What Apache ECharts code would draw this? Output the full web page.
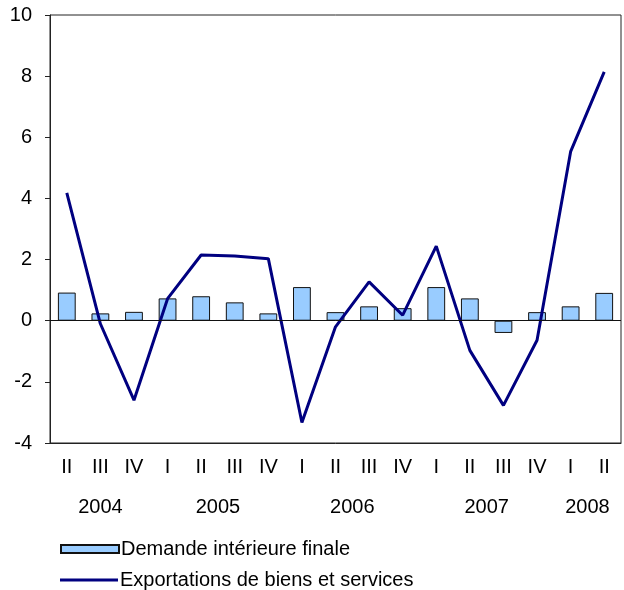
<!DOCTYPE html>
<html>
<head>
<meta charset="utf-8">
<script src="https://cdn.jsdelivr.net/npm/echarts@6/dist/echarts.min.js"></script>
<style>
html,body{margin:0;padding:0;background:#fff;}
#chart{width:624px;height:590px;}
</style>
</head>
<body>
<div id="chart"></div>
<script>
var quarters = ['II','III','IV','I','II','III','IV','I','II','III','IV','I','II','III','IV','I','II'];
var quarterYears = ['2004','2004','2004','2005','2005','2005','2005','2006','2006','2006','2006','2007','2007','2007','2007','2008','2008'];
var demandeInterieure = [0.92, 0.24, 0.29, 0.73, 0.80, 0.60, 0.24, 1.10, 0.28, 0.47, 0.41, 1.10, 0.73, -0.40, 0.28, 0.47, 0.91];
var exportations = [4.18, -0.10, -2.60, 0.72, 2.15, 2.12, 2.03, -3.33, -0.20, 1.27, 0.18, 2.44, -0.97, -2.77, -0.64, 5.53, 8.14];
var yTicks = {min: -4, max: 10, step: 2};
var seriesNames = ['Demande intérieure finale', 'Exportations de biens et services'];

// Build year label axis (half-category slots) from the quarter/year data
var yearSlots = [];
for (var j = 0; j <= quarters.length * 2; j++) yearSlots.push('');
var seen = {};
quarterYears.forEach(function (y, i) {
  if (!seen[y]) seen[y] = [];
  seen[y].push(i);
});
Object.keys(seen).forEach(function (y) {
  var idx = seen[y];
  var mid = (idx[0] + idx[idx.length - 1]) / 2;
  yearSlots[Math.round(mid * 2 + 1)] = y;
});

var FONT = 'Liberation Sans, Arial, sans-serif';
var FS = 20;
var legendText = {fontFamily: FONT, fontSize: FS, color: '#000', padding: [0, 0, 0, -3]};
var chart = echarts.init(document.getElementById('chart'), null, {renderer: 'canvas'});
chart.setOption({
  animation: false,
  backgroundColor: '#fff',
  grid: {left: 50, right: 2, top: 15, bottom: 147, show: true, borderColor: '#222', borderWidth: 1, backgroundColor: 'transparent'},
  legend: [{
    orient: 'horizontal', left: 55, top: 534, itemWidth: 58, itemHeight: 8,
    textStyle: legendText,
    data: [{name: seriesNames[0], icon: 'rect'}]
  }, {
    orient: 'horizontal', left: 55, top: 565, itemWidth: 58, itemHeight: 3,
    textStyle: legendText,
    data: [{name: seriesNames[1], icon: 'rect', itemStyle: {color: '#000080', borderWidth: 0}}]
  }],
  xAxis: [{
    type: 'category', data: quarters, position: 'bottom',
    axisLine: {show: true, onZero: false, lineStyle: {color: '#222', width: 1}},
    axisTick: {show: false},
    axisLabel: {interval: 0, margin: 14, fontFamily: FONT, fontSize: FS, color: '#000'}
  }, {
    type: 'category', data: yearSlots, position: 'bottom', boundaryGap: false,
    axisLine: {show: false}, axisTick: {show: false},
    axisLabel: {interval: 0, margin: 54, fontFamily: FONT, fontSize: FS, color: '#000'}
  }],
  yAxis: {
    type: 'value', min: yTicks.min, max: yTicks.max, interval: yTicks.step,
    splitLine: {show: false},
    axisLine: {show: true, lineStyle: {color: '#222', width: 1}},
    axisTick: {show: true, length: 5, lineStyle: {color: '#222'}},
    axisLabel: {margin: 18, fontFamily: FONT, fontSize: FS, color: '#000'}
  },
  series: [{
    name: seriesNames[0], type: 'bar', data: demandeInterieure, barWidth: '53%',
    itemStyle: {color: '#99ccff', borderColor: '#111', borderWidth: 1},
    markLine: {silent: true, symbol: 'none', label: {show: false},
      lineStyle: {color: '#111', width: 1, type: 'solid'}, data: [{yAxis: 0}]}
  }, {
    name: seriesNames[1], type: 'line', data: exportations, symbol: 'none', showSymbol: false,
    lineStyle: {color: '#000080', width: 3}, itemStyle: {color: '#000080'}
  }]
});
</script>
</body>
</html>
